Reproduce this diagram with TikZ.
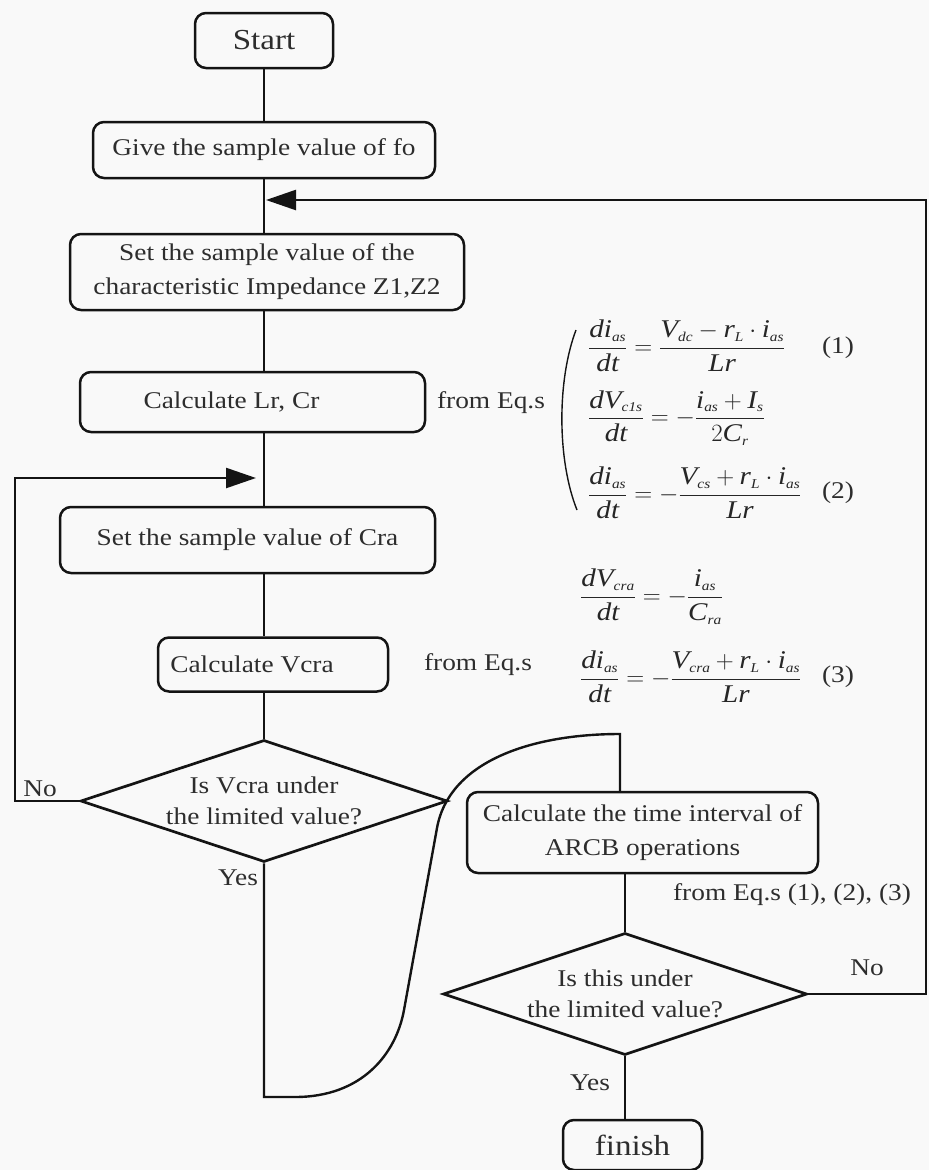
\documentclass[tikz,border=0pt]{standalone}
\usepackage{amsmath}
\usepackage{fontspec}
\setmainfont{Liberation Serif}[FakeStretch=1.14]
\usetikzlibrary{shapes.geometric,arrows.meta}
\newcommand\mv[1]{\textit{#1}}
\newcommand\sbt[1]{\text{\fontsize{13.5}{14}\selectfont\itshape #1}}
\definecolor{ink}{RGB}{20,20,20}
\definecolor{txt}{RGB}{45,45,45}
\definecolor{bg}{RGB}{249,249,249}
\begin{document}
\begin{tikzpicture}[x=1pt,y=-1pt,
  box/.style={draw=ink, line width=2.5pt, rounded corners=11pt, text=txt, align=center, inner sep=0pt, font=\fontsize{24}{34}\selectfont},
  term/.style={box, font=\fontsize{29}{33}\selectfont},
  dia/.style={draw=ink, line width=2.7pt, diamond, aspect=3, inner sep=0pt, text=txt, align=center, font=\fontsize{24}{31}\selectfont},
  conn/.style={draw=ink, line width=2.4pt},
  arr/.style={conn, -{Triangle[length=30pt,width=20pt]}},
  lbl/.style={text=txt, inner sep=0pt, font=\fontsize{24}{28}\selectfont},
  eqn/.style={text=black!85, inner sep=0pt, anchor=west, font=\fontsize{25.5}{30}\selectfont}]
\fill[bg] (0,0) rectangle (929,1170);
\useasboundingbox (0,0) rectangle (929,1170);

% boxes
\node[term, minimum width=138pt, minimum height=55pt] (start) at (264,40.5) {Start};
\node[box, minimum width=342pt, minimum height=56pt] (give) at (264,150) {Give the sample value of fo};
\node[box, minimum width=394pt, minimum height=76pt] (setz) at (267,272) {Set the sample value of the\\characteristic Impedance Z1,Z2};
\node[box, minimum width=345pt, minimum height=60pt] (calclr) at (252.5,402) {Calculate Lr, Cr\hspace*{42pt}};
\node[box, minimum width=375pt, minimum height=66pt] (setcra) at (247.5,540) {Set the sample value of Cra};
\node[box, minimum width=230pt, minimum height=54pt] (calcv) at (273,664.5) {Calculate Vcra\hspace*{42pt}};
\node[dia, minimum width=367pt, minimum height=122pt] (dec1) at (264,801) {Is Vcra under\\the limited value?};
\node[box, minimum width=351pt, minimum height=81pt] (arcb) at (642.5,832.5) {Calculate the time interval of\\ARCB operations};
\node[dia, minimum width=364pt, minimum height=122pt] (dec2) at (625,994) {Is this under\\the limited value?};
\node[term, minimum width=139pt, minimum height=50pt] (finish) at (632.5,1145) {finish};

% labels
\node[lbl] (no1) at (40,789) {No};
\node[lbl] (yes1) at (238,878) {Yes};
\node[lbl] (no2) at (867,968) {No};
\node[lbl] (yes2) at (590,1083) {Yes};
\node[lbl] (from1) at (491,403) {from Eq.s};
\node[lbl] (from2) at (478,665) {from Eq.s};
\node[lbl] (from3) at (792,895) {from Eq.s (1), (2), (3)};

% trunk connectors
\draw[conn] (start.south) -- (give.north);
\draw[conn] (give.south) -- (give.south |- setz.north);
\draw[conn] (give.south |- setz.south) -- (give.south |- calclr.north);
\draw[conn] (give.south |- calclr.south) -- (give.south |- setcra.north);
\draw[conn] (give.south |- setcra.south) -- (give.south |- calcv.north);
\draw[conn] (give.south |- calcv.south) -- (dec1.north);

% loops
\coordinate (rtop) at (926,200);
\coordinate (j1) at (266,200);
\draw[arr] (dec2.east) -- (dec2.east -| rtop) -- (rtop) -- (j1);
\coordinate (ltop) at (15,478);
\coordinate (j2) at (256,478);
\draw[arr] (dec1.west) -- (dec1.west -| ltop) -- (ltop) -- (j2);

% curved yes connector
\draw[conn] (dec1.south) -- (264,1097) -- (295,1097) .. controls (362,1097) and (396,1054) .. (404,1010) -- (437,828) .. controls (449,762) and (530,734) .. (620,734) -- (620,0 |- arcb.north);

\draw[conn] (dec2.north |- arcb.south) -- (dec2.north);
\draw[conn] (dec2.south) -- (dec2.south |- finish.north);

% equations
\draw[ink, line width=1.4pt] (576,330) .. controls (557,380) and (557,460) .. (577,510);
\node[eqn] (eq1) at (588,346) {$\dfrac{\mv{di}_{\sbt{as}}}{\mv{dt}}=\dfrac{\mv{V}_{\sbt{dc}}-\mv{r}_{\sbt{L}}\cdot \mv{i}_{\sbt{as}}}{\mv{Lr}}$};
\node[eqn] (eq2) at (588,418) {$\dfrac{\mv{dV}_{\sbt{c1s}}}{\mv{dt}}=-\dfrac{\mv{i}_{\sbt{as}}+\mv{I}_{\sbt{s}}}{2\mv{C}_{\sbt{r}}}$};
\node[eqn] (eq3) at (588,493) {$\dfrac{\mv{di}_{\sbt{as}}}{\mv{dt}}=-\dfrac{\mv{V}_{\sbt{cs}}+\mv{r}_{\sbt{L}}\cdot \mv{i}_{\sbt{as}}}{\mv{Lr}}$};
\node[eqn] (eq4) at (580,597) {$\dfrac{\mv{dV}_{\sbt{cra}}}{\mv{dt}}=-\dfrac{\mv{i}_{\sbt{as}}}{\mv{C}_{\sbt{ra}}}$};
\node[eqn] (eq5) at (580,677) {$\dfrac{\mv{di}_{\sbt{as}}}{\mv{dt}}=-\dfrac{\mv{V}_{\sbt{cra}}+\mv{r}_{\sbt{L}}\cdot \mv{i}_{\sbt{as}}}{\mv{Lr}}$};
\node[lbl] (n1) at (838,348) {(1)};
\node[lbl] (n2) at (838,493) {(2)};
\node[lbl] (n3) at (838,677) {(3)};
\end{tikzpicture}
\end{document}
